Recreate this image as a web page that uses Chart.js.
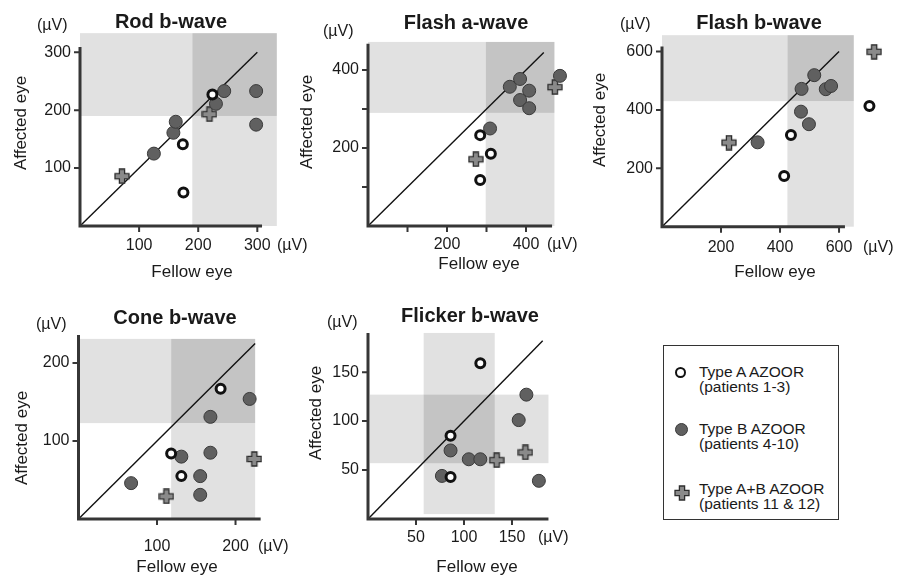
<!DOCTYPE html>
<html>
<head>
<meta charset="utf-8">
<script src="https://cdn.jsdelivr.net/npm/chart.js@4.4.0/dist/chart.umd.min.js"></script>
<style>
  body { margin: 0; background: #fff; width: 904px; height: 579px; overflow: hidden; position: relative;
         font-family: "Liberation Sans", Arial, sans-serif; }
  canvas.plot { position: absolute; left: 0; top: 0; }
  #legend { position: absolute; left: 663px; top: 345px; width: 176px; height: 175px;
            border: 1.5px solid #333; box-sizing: border-box; color: #1a1a1a; }
  #legend .row { position: absolute; left: 35px; font-size: 15.5px; line-height: 15px; white-space: nowrap; }
  #legend .mk { position: absolute; }
  .open { width: 7px; height: 7px; border: 2.5px solid #111; border-radius: 50%; background: #fff; }
  .fill { width: 11px; height: 11px; border: 1px solid #3a3a3a; border-radius: 50%; background: #606060; }
</style>
</head>
<body>
<div id="legend">
  <div class="mk open" style="left:11px;top:21px"></div>
  <div class="row" style="top:18px">Type A AZOOR<br>(patients 1-3)</div>
  <div class="mk fill" style="left:11px;top:77px"></div>
  <div class="row" style="top:75px">Type B AZOOR<br>(patients 4-10)</div>
  <span class="mk" id="legendPlus" style="left:10px;top:139px"></span>
  <div class="row" style="top:135px">Type A+B AZOOR<br>(patients 11 &amp; 12)</div>
</div>
<script>
// ---- data: [fellow eye, affected eye] in µV ----
const rodTypeA = [[174, 141], [175, 58], [224, 227]];
const rodTypeB = [[125, 125], [158, 161], [162, 180], [230, 211], [244, 233], [298, 233], [298, 175]];
const rodTypeAB = [[71, 86], [219, 193]];

const flashATypeA = [[284, 233], [311, 185], [284, 118]];
const flashATypeB = [[309, 250], [359, 357], [385, 377], [408, 347], [385, 323], [408, 302], [486, 385]];
const flashATypeAB = [[273, 171], [473, 356]];

const flashBTypeA = [[703, 413], [437, 314], [414, 174]];
const flashBTypeB = [[324, 289], [516, 519], [473, 472], [555, 471], [573, 482], [471, 394], [498, 351]];
const flashBTypeAB = [[227, 288], [719, 599]];

const coneTypeA = [[181, 167], [118, 84], [131, 55]];
const coneTypeB = [[218, 154], [168, 131], [168, 85], [131, 80], [155, 55], [155, 31], [67, 46]];
const coneTypeAB = [[112, 29], [224, 77]];

const flickerTypeA = [[117, 159], [86, 85], [86, 43]];
const flickerTypeB = [[86, 70], [77, 44], [105, 61], [117, 61], [165, 127], [157, 101], [178, 39]];
const flickerTypeAB = [[134, 60], [164, 68]];

// tick values and labelled ticks
const rodTicks = [100, 200, 300];
const flashATicks = [100, 200, 300, 400];
const flashALabels = [200, 400];
const flashBTicks = [200, 400, 600];
const coneTicks = [100, 200];
const flickerTicks = [50, 100, 150];

// normal range lower limits [fellow, affected] and shaded extent
const rodNormal = [190, 190], rodExtent = [333, 333];
const flashANormal = [298, 290], flashAExtent = [472, 472];
const flashBNormal = [425, 430], flashBExtent = [650, 656];
const coneNormal = [118, 123], coneExtent = [225, 231];
const flickerNormalX = [58, 132], flickerNormalY = [57, 127], flickerExtent = [188, 190];

const LIGHT = '#e1e1e1', DARK = '#c4c4c4';

function makePlus() {
  const c = document.createElement('canvas');
  c.width = 16; c.height = 16;
  const g = c.getContext('2d');
  const a = 2.6, l = 7;
  g.beginPath();
  g.moveTo(8 - a, 8 - l); g.lineTo(8 + a, 8 - l); g.lineTo(8 + a, 8 - a); g.lineTo(8 + l, 8 - a);
  g.lineTo(8 + l, 8 + a); g.lineTo(8 + a, 8 + a); g.lineTo(8 + a, 8 + l); g.lineTo(8 - a, 8 + l);
  g.lineTo(8 - a, 8 + a); g.lineTo(8 - l, 8 + a); g.lineTo(8 - l, 8 - a); g.lineTo(8 - a, 8 - a);
  g.closePath();
  g.fillStyle = '#8a8a8a'; g.fill();
  g.lineWidth = 1.3; g.strokeStyle = '#2e2e2e'; g.stroke();
  return c;
}
const plusImg = makePlus();
document.getElementById('legendPlus').appendChild(makePlus());

const toPts = arr => arr.map(p => ({ x: p[0], y: p[1] }));

function quadrantShades(normal, extent) {
  return [
    { x0: 0, x1: normal[0], y0: normal[1], y1: extent[1], c: LIGHT },
    { x0: normal[0], x1: extent[0], y0: 0, y1: normal[1], c: LIGHT },
    { x0: normal[0], x1: extent[0], y0: normal[1], y1: extent[1], c: DARK }
  ];
}

function makePanel(p) {
  const canvas = document.createElement('canvas');
  canvas.width = 904; canvas.height = 579; canvas.className = 'plot';
  document.body.appendChild(canvas);

  const decor = {
    id: 'decor',
    beforeDatasetsDraw(chart) {
      const ctx = chart.ctx;
      const X = v => chart.scales.x.getPixelForValue(v);
      const Y = v => chart.scales.y.getPixelForValue(v);
      ctx.save();
      p.shades.forEach(s => {
        ctx.fillStyle = s.c;
        ctx.fillRect(X(s.x0), Y(s.y1), X(s.x1) - X(s.x0), Y(s.y0) - Y(s.y1));
      });
      // identity line
      ctx.strokeStyle = '#111'; ctx.lineWidth = 1.4;
      ctx.beginPath(); ctx.moveTo(X(0), Y(0)); ctx.lineTo(X(p.diag), Y(p.diag)); ctx.stroke();
      // axes
      ctx.strokeStyle = '#363636'; ctx.lineWidth = 3;
      ctx.beginPath();
      ctx.moveTo(X(0), Y(p.axisEnd[1])); ctx.lineTo(X(0), Y(0) + 1.5);
      ctx.moveTo(X(0) - 1.5, Y(0)); ctx.lineTo(X(p.axisEnd[0]), Y(0));
      ctx.stroke();
      ctx.lineWidth = 2;
      ctx.beginPath();
      p.ticks.forEach(v => {
        ctx.moveTo(X(v), Y(0)); ctx.lineTo(X(v), Y(0) + 6);
        ctx.moveTo(X(0), Y(v)); ctx.lineTo(X(0) - 6, Y(v));
      });
      ctx.stroke();
      // tick labels
      ctx.fillStyle = '#1a1a1a';
      ctx.font = '16px "Liberation Sans", Arial, sans-serif';
      ctx.textBaseline = 'middle';
      p.labels.forEach(v => {
        ctx.textAlign = 'center'; ctx.fillText(String(v), X(v), p.xLabelY);
        ctx.textAlign = 'right'; ctx.fillText(String(v), X(0) - 9, Y(v));
      });
      ctx.textAlign = 'left';
      ctx.fillText('(µV)', p.unitTop[0], p.unitTop[1]);
      ctx.fillText('(µV)', p.unitRight[0], p.unitRight[1]);
      ctx.font = '17px "Liberation Sans", Arial, sans-serif';
      ctx.textAlign = 'center';
      ctx.fillText('Fellow eye', p.fellow[0], p.fellow[1]);
      ctx.save();
      ctx.translate(p.affected[0], p.affected[1]); ctx.rotate(-Math.PI / 2);
      ctx.fillText('Affected eye', 0, 0);
      ctx.restore();
      ctx.font = 'bold 20px "Liberation Sans", Arial, sans-serif';
      ctx.fillText(p.title, p.titlePos[0], p.titlePos[1]);
      ctx.restore();
    }
  };

  new Chart(canvas, {
    type: 'scatter',
    data: {
      datasets: [
        { label: 'Type A AZOOR', data: toPts(p.typeA), pointStyle: 'circle', pointRadius: 4.5,
          borderWidth: 3, borderColor: '#111', backgroundColor: '#fff', clip: false },
        { label: 'Type B AZOOR', data: toPts(p.typeB), pointStyle: 'circle', pointRadius: 6.5,
          borderWidth: 1, borderColor: '#3a3a3a', backgroundColor: '#606060', clip: false },
        { label: 'Type A+B AZOOR', data: toPts(p.typeAB), pointStyle: plusImg, pointRadius: 8, clip: false }
      ]
    },
    options: {
      responsive: false,
      devicePixelRatio: 1,
      animation: false,
      events: [],
      layout: { padding: { left: p.box[0], top: p.box[1], right: 904 - p.box[2], bottom: 579 - p.box[3] } },
      scales: {
        x: { type: 'linear', display: false, min: 0, max: p.max[0] },
        y: { type: 'linear', display: false, min: 0, max: p.max[1] }
      },
      plugins: { legend: { display: false }, tooltip: { enabled: false }, title: { display: false } }
    },
    plugins: [decor]
  });
}

makePanel({
  title: 'Rod b-wave', typeA: rodTypeA, typeB: rodTypeB, typeAB: rodTypeAB,
  ticks: rodTicks, labels: rodTicks, max: [335, 335], box: [80, 32, 278, 226],
  axisEnd: [308, 309], diag: 300, shades: quadrantShades(rodNormal, rodExtent),
  xLabelY: 246, unitTop: [37, 26], unitRight: [277, 246], fellow: [192, 272], affected: [21, 123], titlePos: [171, 22]
});
makePanel({
  title: 'Flash a-wave', typeA: flashATypeA, typeB: flashATypeB, typeAB: flashATypeAB,
  ticks: flashATicks, labels: flashALabels, max: [500, 480], box: [368, 38.8, 565.5, 226],
  axisEnd: [466, 467], diag: 445, shades: quadrantShades(flashANormal, flashAExtent),
  xLabelY: 245, unitTop: [323, 32], unitRight: [547, 245], fellow: [479, 264], affected: [307, 122], titlePos: [466, 23]
});
makePanel({
  title: 'Flash b-wave', typeA: flashBTypeA, typeB: flashBTypeB, typeAB: flashBTypeAB,
  ticks: flashBTicks, labels: flashBTicks, max: [730, 660], box: [662, 34, 877.4, 226.7],
  axisEnd: [620, 617], diag: 600, shades: quadrantShades(flashBNormal, flashBExtent),
  xLabelY: 248, unitTop: [620, 25], unitRight: [863, 248], fellow: [775, 272], affected: [600, 120], titlePos: [759, 23]
});
makePanel({
  title: 'Cone b-wave', typeA: coneTypeA, typeB: coneTypeB, typeAB: coneTypeAB,
  ticks: coneTicks, labels: coneTicks, max: [235, 236], box: [78.5, 335, 263, 519],
  axisEnd: [232, 236], diag: 225, shades: quadrantShades(coneNormal, coneExtent),
  xLabelY: 547, unitTop: [36, 325], unitRight: [258, 547], fellow: [177, 567], affected: [22, 438], titlePos: [175, 318]
});
makePanel({
  title: 'Flicker b-wave', typeA: flickerTypeA, typeB: flickerTypeB, typeAB: flickerTypeAB,
  ticks: flickerTicks, labels: flickerTicks, max: [192, 192], box: [368, 331, 552.3, 519],
  axisEnd: [188, 190], diag: 182,
  shades: [
    { x0: flickerNormalX[0], x1: flickerNormalX[1], y0: 5, y1: flickerExtent[1], c: LIGHT },
    { x0: 2, x1: flickerExtent[0], y0: flickerNormalY[0], y1: flickerNormalY[1], c: LIGHT },
    { x0: flickerNormalX[0], x1: flickerNormalX[1], y0: flickerNormalY[0], y1: flickerNormalY[1], c: DARK }
  ],
  xLabelY: 538, unitTop: [327, 323], unitRight: [538, 538], fellow: [477, 567], affected: [316, 413], titlePos: [470, 316]
});
</script>
</body>
</html>
